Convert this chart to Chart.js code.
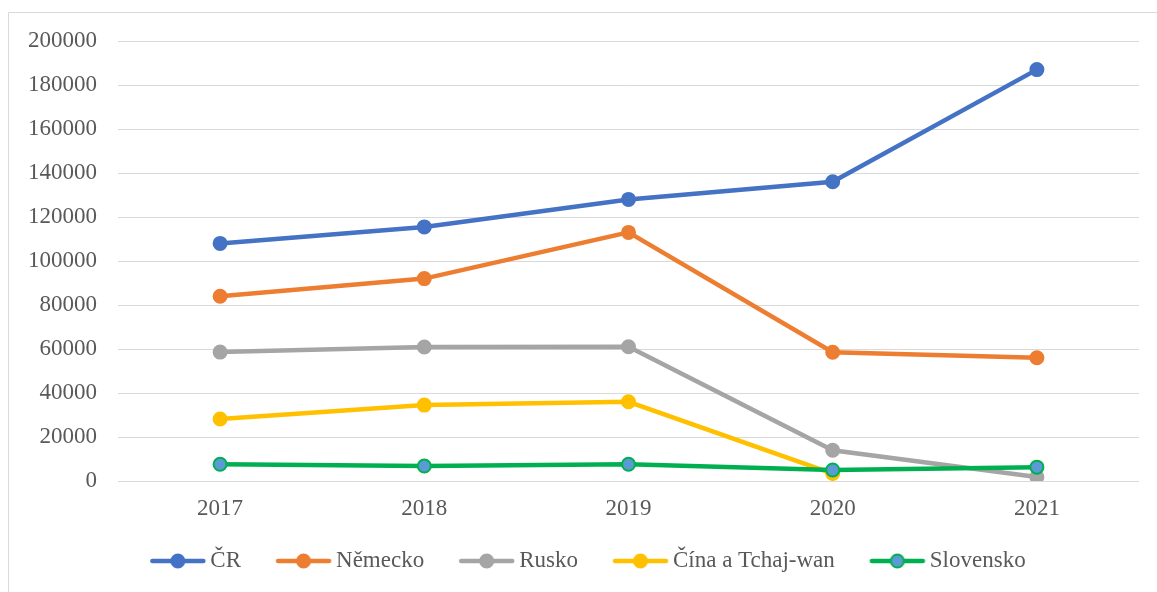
<!DOCTYPE html>
<html>
<head>
<meta charset="utf-8">
<script src="https://cdn.jsdelivr.net/npm/chart.js@4/dist/chart.umd.min.js"></script>
<style>
  html, body { margin: 0; padding: 0; background: #ffffff; }
  #wrap { width: 1157px; height: 592px; position: relative; }
</style>
</head>
<body>
<div id="wrap"><canvas id="c" width="1157" height="592"></canvas></div>
<script>
const years = ['2017', '2018', '2019', '2020', '2021'];
const seriesNames = ['ČR', 'Německo', 'Rusko', 'Čína a Tchaj-wan', 'Slovensko'];
const cr = [108000, 115500, 128000, 136000, 187000];
const nemecko = [84000, 92000, 113000, 58500, 56000];
const rusko = [58600, 60900, 61000, 14000, 1800];
const cina = [28200, 34500, 36000, 3400, null];
const slovensko = [7600, 6800, 7600, 5000, 6300];
const yTicks = [0, 20000, 40000, 60000, 80000, 100000, 120000, 140000, 160000, 180000, 200000];

const lineColors = ['#4472C4', '#ED7D31', '#A5A5A5', '#FFC000', '#00B050'];
const pointFills = ['#4472C4', '#ED7D31', '#A5A5A5', '#FFC000', '#5B9BD5'];
const values = [cr, nemecko, rusko, cina, slovensko];

const FONT = '"Liberation Serif", "Times New Roman", serif';
const TXT = '#595959';

function legendIcon(lineColor, fill) {
  const c = document.createElement('canvas');
  const I = 90;
  c.width = I; c.height = 18;
  const ctx = c.getContext('2d');
  const a = I / 2 - 11.75;
  ctx.strokeStyle = lineColor;
  ctx.lineWidth = 4.5;
  ctx.lineCap = 'round';
  ctx.beginPath();
  ctx.moveTo(a + 2, 9);
  ctx.lineTo(a + 53, 9);
  ctx.stroke();
  ctx.beginPath();
  ctx.arc(a + 27.5, 9, 6.5, 0, Math.PI * 2);
  ctx.fillStyle = fill;
  ctx.fill();
  ctx.lineWidth = 2;
  ctx.strokeStyle = lineColor;
  ctx.stroke();
  return c;
}
const icons = lineColors.map((c, i) => legendIcon(c, pointFills[i]));

const datasets = seriesNames.map((name, i) => ({
  label: name,
  data: values[i],
  borderColor: lineColors[i],
  backgroundColor: pointFills[i],
  pointBackgroundColor: pointFills[i],
  pointBorderColor: lineColors[i],
  pointBorderWidth: 2,
  pointRadius: 6.5,
  pointHoverRadius: 6.5,
  pointStyle: 'circle',
  borderWidth: 4.5,
  tension: 0,
  fill: false,
  spanGaps: false,
  order: seriesNames.length - 1 - i
}));

const frame = {
  id: 'frame',
  beforeDraw(chart) {
    const ctx = chart.ctx;
    ctx.save();
    ctx.fillStyle = '#ffffff';
    ctx.fillRect(0, 0, chart.width, chart.height);
    ctx.strokeStyle = '#D9D9D9';
    ctx.lineWidth = 1;
    ctx.beginPath();
    ctx.moveTo(8.5, 592);
    ctx.lineTo(8.5, 12.5);
    ctx.lineTo(1157, 12.5);
    ctx.stroke();
    ctx.restore();
  }
};

new Chart(document.getElementById('c'), {
  type: 'line',
  data: { labels: years, datasets },
  plugins: [frame],
  options: {
    responsive: false,
    animation: false,
    devicePixelRatio: 1,
    layout: { padding: { left: 12, right: 18, top: 41, bottom: 9.5 } },
    plugins: {
      tooltip: { enabled: false },
      legend: {
        position: 'bottom',
        labels: {
          usePointStyle: true,
          pointStyleWidth: 73.5,
          padding: 10,
          color: TXT,
          font: { family: FONT, size: 23 },
          sort: (a, b) => a.datasetIndex - b.datasetIndex,
          generateLabels(chart) {
            return chart.data.datasets.map((ds, i) => ({
              text: ds.label,
              fillStyle: pointFills[i],
              strokeStyle: lineColors[i],
              lineWidth: 0,
              pointStyle: icons[i],
              hidden: false,
              datasetIndex: i,
              fontColor: TXT
            }));
          }
        }
      }
    },
    scales: {
      x: {
        offset: true,
        grid: { display: false, drawTicks: false },
        border: { display: false },
        ticks: { color: TXT, font: { family: FONT, size: 23 }, padding: 14 },
        afterFit(s) { s.height = 58.5; }
      },
      y: {
        min: 0,
        max: 200000,
        afterBuildTicks(s) { s.ticks = yTicks.map(v => ({ value: v })); },
        grid: { color: '#D9D9D9', lineWidth: 1, drawTicks: false },
        border: { display: false },
        ticks: {
          color: TXT,
          font: { family: FONT, size: 23 },
          padding: 21,
          callback: (v) => String(v)
        },
        afterFit(s) { s.width = 106; }
      }
    }
  }
});
</script>
</body>
</html>
